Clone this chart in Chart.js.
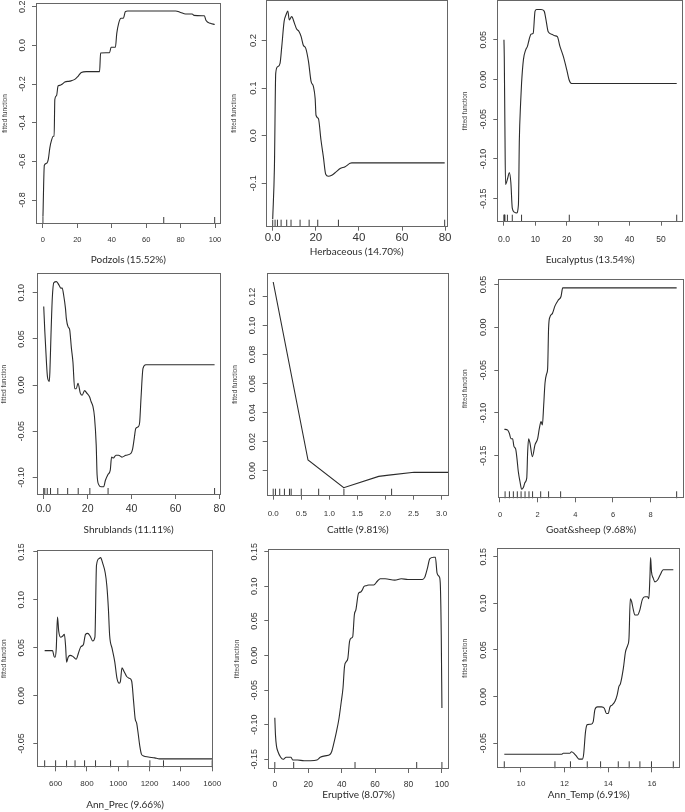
<!DOCTYPE html>
<html lang="en">
<head>
<meta charset="utf-8">
<title>Fitted functions of the boosted model</title>
<script src="https://cdn.jsdelivr.net/npm/chart.js@4.4.1/dist/chart.umd.min.js"></script>
<style>
  body { margin: 0; background: #fff; }
  #wrapper { position: relative; width: 685px; height: 812px; overflow: hidden; }
  #wrapper canvas { position: absolute; }
</style>
</head>
<body>
<div id="wrapper"></div>
<script>
// axis titles
var titles = ['Podzols (15.52%)', 'Herbaceous (14.70%)', 'Eucalyptus (13.54%)',
  'Shrublands (11.11%)', 'Cattle (9.81%)', 'Goat&sheep (9.68%)',
  'Ann_Prec (9.66%)', 'Eruptive (8.07%)', 'Ann_Temp (6.91%)'];
var yAxisTitle = 'fitted function';

// Podzols
var podzolsX = [0, 0.8, 2.1, 3.1, 4.0, 5.0, 6.0, 6.5, 6.9, 7.9, 8.8, 9.8, 11.3, 12.7, 15.6, 18.5, 20.4, 22.3, 25.2, 32.9,
  33.5, 36.7, 38.7, 39.6, 42.1, 42.9, 44.0, 45.4, 46.7, 47.9, 49.2, 77.1, 80.0, 82.9, 86.7, 87.7, 92.5, 93.8, 94.8, 97.3, 99.8];
var podzolsY = [-0.886, -0.62, -0.61, -0.59, -0.53, -0.49, -0.47, -0.47, -0.28, -0.26, -0.21, -0.207, -0.2, -0.19, -0.185, -0.176, -0.16, -0.14, -0.136, -0.136,
  -0.04, -0.038, -0.038, -0.01, -0.01, 0.062, 0.114, 0.14, 0.14, 0.174, 0.178, 0.178, 0.17, 0.162, 0.162, 0.155, 0.153, 0.153, 0.128, 0.114, 0.108];
var podzolsRug = [0, 70.2, 99.8];
var podzolsXTicks = ['0', '20', '40', '60', '80', '100'];
var podzolsYTicks = ['-0.8', '-0.6', '-0.4', '-0.2', '0.0', '0.2'];

// Herbaceous
var herbX = [0, 0.8, 1.4, 2.3, 3.4, 4.2, 5.3, 6.2, 7.0, 7.7, 8.8, 10.1, 11.1, 12.2, 13.2, 14.2, 15.3, 16.6, 17.8, 18.9,
  19.7, 20.1, 21.2, 22.4, 23.5, 24.6, 25.8, 27.4, 29.4, 31.3, 33.6, 35.9, 36.7, 79.8];
var herbY = [-0.175, -0.065, 0.131, 0.145, 0.152, 0.187, 0.24, 0.254, 0.262, 0.243, 0.25, 0.236, 0.224, 0.219, 0.208, 0.19, 0.184, 0.156, 0.114, 0.103,
  0.078, 0.043, 0.036, -0.009, -0.044, -0.081, -0.085, -0.083, -0.076, -0.069, -0.065, -0.058, -0.057, -0.057];
var herbRug = [0, 1.1, 2.2, 3.9, 6.5, 8.5, 12.7, 16.9, 20.9, 30.5, 79.8];
var herbXTicks = ['0.0', '20', '40', '60', '80'];
var herbYTicks = ['-0.1', '0.0', '0.1', '0.2'];

// Eucalyptus
var eucX = [0, 0.1, 0.3, 0.5, 1.2, 1.7, 2.2, 2.65, 3.3, 4.0, 4.6, 4.9, 5.3, 5.6, 6.2, 6.9, 7.5, 8.0, 8.6, 9.3,
  9.9, 10.4, 11.8, 12.8, 13.3, 14.1, 15.2, 16.2, 17.0, 17.8, 18.9, 20.0, 20.7, 21.5, 55.0];
var eucY = [0.05, 0.029, -0.059, -0.132, -0.124, -0.117, -0.13, -0.162, -0.167, -0.168, -0.158, -0.076, -0.03, -0.005, 0.025, 0.037, 0.042, 0.05, 0.057, 0.058,
  0.086, 0.088, 0.088, 0.086, 0.077, 0.06, 0.057, 0.055, 0.054, 0.042, 0.029, 0.012, 0.0, -0.005, -0.005];
var eucRug = [0, 0.1, 0.2, 0.3, 1.1, 2.65, 5.6, 20.8, 55.0];
var eucXTicks = ['0.0', '10', '20', '30', '40', '50'];
var eucYTicks = ['-0.15', '-0.10', '-0.05', '0.00', '0.05'];

// Shrublands
var shrubX = [0, 0.5, 1.3, 1.7, 2.5, 2.8, 3.3, 3.9, 4.6, 5.8, 7.0, 7.8, 8.4, 9.1, 9.9, 10.3, 11.1, 11.8, 12.6, 13.3,
  14.1, 14.8, 15.6, 16.7, 17.5, 18.6, 19.7, 20.9, 21.6, 22.4, 23.1, 23.9, 24.3, 25.1, 26.1, 27.3, 28.1, 29.2, 30.3, 30.9,
  31.7, 32.9, 34.1, 35.6, 37.4, 39.7, 40.4, 41.2, 41.9, 43.1, 43.7, 44.3, 45.2, 46.5, 77.8];
var shrubY = [0.085, 0.058, 0.022, 0.009, 0.004, 0.014, 0.054, 0.094, 0.111, 0.112, 0.108, 0.105, 0.105, 0.097, 0.083, 0.072, 0.063, 0.06, 0.04, 0.025,
  -0.004, -0.004, 0.002, -0.009, -0.011, -0.006, -0.009, -0.013, -0.018, -0.023, -0.034, -0.065, -0.097, -0.108, -0.11, -0.11, -0.103, -0.097, -0.092, -0.078,
  -0.079, -0.076, -0.076, -0.078, -0.076, -0.074, -0.07, -0.058, -0.047, -0.045, -0.04, -0.014, 0.018, 0.022, 0.022];
var shrubRug = [0, 0.5, 1.6, 3.1, 6.4, 10.9, 15.7, 21.0, 29.3, 77.8];
var shrubXTicks = ['0.0', '20', '40', '60', '80'];
var shrubYTicks = ['-0.10', '-0.05', '0.00', '0.05', '0.10'];

// Cattle
var cattleX = [0, 0.62, 1.257, 1.88, 2.06, 2.51, 3.13];
var cattleY = [0.13, 0.0074, -0.0117, -0.0039, -0.003, -0.0011, -0.0011];
var cattleRug = [0, 0.04, 0.116, 0.2, 0.29, 0.32, 0.5, 0.81, 1.26, 2.11];
var cattleXTicks = ['0.0', '0.5', '1.0', '1.5', '2.0', '2.5', '3.0'];
var cattleYTicks = ['0.00', '0.02', '0.04', '0.06', '0.08', '0.10', '0.12'];

// Goat&sheep
var goatX = [0.23, 0.41, 0.5, 0.58, 0.67, 0.74, 0.83, 0.9, 0.97, 1.06, 1.15, 1.24, 1.33, 1.42, 1.47, 1.52, 1.59, 1.72, 1.86, 2.0,
  2.09, 2.18, 2.25, 2.32, 2.39, 2.48, 2.53, 2.58, 2.65, 2.78, 2.92, 3.1, 3.24, 3.33, 9.38];
var goatY = [-0.119, -0.12, -0.124, -0.13, -0.13, -0.139, -0.142, -0.153, -0.168, -0.18, -0.189, -0.187, -0.181, -0.176, -0.145, -0.13, -0.135, -0.151, -0.137, -0.13,
  -0.118, -0.11, -0.114, -0.091, -0.065, -0.054, -0.048, -0.001, 0.012, 0.016, 0.025, 0.032, 0.036, 0.046, 0.046];
var goatRug = [0.27, 0.5, 0.71, 0.92, 1.12, 1.33, 1.54, 1.73, 2.16, 2.58, 3.22, 9.38];
var goatXTicks = ['0', '2', '4', '6', '8'];
var goatYTicks = ['-0.15', '-0.10', '-0.05', '0.00', '0.05'];

// Ann_Prec
var precX = [530, 580, 590, 596, 604, 612, 620, 632, 644, 656, 664, 670, 680, 692, 710, 731, 745, 761, 777, 791,
  805, 821, 837, 851, 861, 877, 887, 901, 917, 927, 937, 945, 961, 978, 992, 1006, 1014, 1024, 1038, 1054,
  1072, 1086, 1098, 1108, 1118, 1126, 1138, 1148, 1162, 1192, 1233, 1263, 1600];
var precY = [0.047, 0.047, 0.041, 0.040, 0.049, 0.082, 0.067, 0.061, 0.062, 0.064, 0.051, 0.035, 0.040, 0.042, 0.041, 0.038, 0.044, 0.051, 0.053, 0.064,
  0.065, 0.062, 0.057, 0.061, 0.136, 0.143, 0.144, 0.138, 0.128, 0.115, 0.091, 0.063, 0.049, 0.035, 0.018, 0.013, 0.015, 0.029, 0.025, 0.020,
  0.018, 0.015, -0.006, -0.024, -0.029, -0.038, -0.053, -0.061, -0.063, -0.064, -0.065, -0.066, -0.066];
var precRug = [530, 600, 670, 724, 785, 855, 951, 1062, 1202, 1289, 1600];
var precXTicks = ['600', '800', '1000', '1200', '1400', '1600'];
var precYTicks = ['-0.05', '0.00', '0.05', '0.10', '0.15'];

// Eruptive
var erupX = [0, 0.4, 1.0, 1.9, 3.5, 4.9, 6.8, 9.7, 10.7, 13.6, 17.5, 21.4, 25.2, 27.2, 30.1, 33.0, 34.0, 35.3, 36.9, 38.4,
  39.8, 40.8, 41.7, 42.7, 43.7, 44.7, 45.6, 46.6, 47.6, 48.5, 50.1, 51.5, 52.4, 53.4, 54.8, 56.3, 59.2, 61.2, 63.1, 66.0,
  71.8, 75.7, 79.6, 88.3, 89.7, 91.3, 92.8, 95.1, 96.1, 97.1, 98.4, 99.0, 99.6, 100];
var erupY = [-0.090, -0.115, -0.131, -0.139, -0.147, -0.150, -0.147, -0.147, -0.151, -0.151, -0.152, -0.152, -0.151, -0.147, -0.145, -0.143, -0.139, -0.127, -0.110, -0.091,
  -0.066, -0.047, -0.016, -0.009, -0.004, 0.020, 0.025, 0.027, 0.059, 0.066, 0.090, 0.092, 0.095, 0.100, 0.101, 0.102, 0.102, 0.107, 0.111, 0.111,
  0.109, 0.111, 0.110, 0.110, 0.113, 0.126, 0.140, 0.142, 0.142, 0.119, 0.114, 0.105, 0.030, -0.076];
var erupRug = [0, 11.3, 48.0, 84.9, 100];
var erupXTicks = ['0', '20', '40', '60', '80', '100'];
var erupYTicks = ['-0.15', '-0.10', '-0.05', '0.00', '0.05', '0.10', '0.15'];

// Ann_Temp
var tempX = [9.24, 11.86, 11.94, 12.24, 12.32, 12.44, 12.55, 12.66, 12.81, 12.87, 12.96, 13.04, 13.21, 13.31, 13.39, 13.51, 13.69, 13.82, 13.92, 14.0,
  14.08, 14.18, 14.31, 14.41, 14.49, 14.56, 14.69, 14.79, 14.89, 14.95, 15.01, 15.07, 15.15, 15.22, 15.34, 15.45, 15.56, 15.68, 15.80, 15.86,
  15.91, 15.94, 15.98, 16.06, 16.14, 16.26, 16.37, 16.52, 16.98];
var tempY = [-0.0618, -0.0618, -0.0607, -0.0607, -0.059, -0.061, -0.064, -0.067, -0.067, -0.0625, -0.0375, -0.030, -0.0296, -0.027, -0.014, -0.011, -0.011, -0.0125, -0.018, -0.018,
  -0.011, -0.009, -0.005, 0.002, 0.011, 0.014, 0.030, 0.048, 0.055, 0.0625, 0.105, 0.102, 0.093, 0.0875, 0.0875, 0.093, 0.104, 0.107, 0.107, 0.105,
  0.129, 0.149, 0.134, 0.127, 0.123, 0.125, 0.130, 0.136, 0.136];
var tempRug = [9.24, 11.56, 12.27, 13.04, 13.65, 14.46, 14.96, 15.45, 15.98, 16.98];
var tempXTicks = ['10', '12', '14', '16'];
var tempYTicks = ['-0.05', '0.00', '0.05', '0.10', '0.15'];

// panel layout: cell = canvas [x, y, w, h], box = plot frame [left, top, right, bottom] in page px
var panels = [
  { xs: podzolsX, ys: podzolsY, rug: podzolsRug, xt: podzolsXTicks, yt: podzolsYTicks, smooth: true,
    cell: [0, 0, 229, 268], box: [36, 3, 222, 224], xr: [-4.04, 103.3], yr: [-0.924, 0.219],
    xFont: 7.5, xOff: 16, yFont: 9, yOff: 13.3, titleY: 260, yTitleX: 5.7 },
  { xs: herbX, ys: herbY, rug: herbRug, xt: herbXTicks, yt: herbYTicks, smooth: true,
    cell: [229, 0, 227, 268], box: [265.7, 0, 447.7, 226.7], xr: [-3.25, 81.2], yr: [-0.191, 0.285],
    xFont: 11.5, xOff: 11.6, yFont: 9.5, yOff: 12.7, titleY: 251.7, yTitleX: 234.3 },
  { xs: eucX, ys: eucY, rug: eucRug, xt: eucXTicks, yt: eucYTicks, smooth: true,
    cell: [456, 0, 229, 268], box: [497.3, 0, 683, 221.7], xr: [-2.12, 57.0], yr: [-0.179, 0.1],
    xFont: 8.5, xOff: 18, yFont: 9, yOff: 14, titleY: 260, yTitleX: 465 },
  { xs: shrubX, ys: shrubY, rug: shrubRug, xt: shrubXTicks, yt: shrubYTicks, smooth: true,
    cell: [0, 268, 229, 270], box: [36.7, 273.3, 222, 495], xr: [-3.2, 80.5], yr: [-0.119, 0.121],
    xFont: 10.5, xOff: 14, yFont: 9, yOff: 15, titleY: 530, yTitleX: 4 },
  { xs: cattleX, ys: cattleY, rug: cattleRug, xt: cattleXTicks, yt: cattleYTicks, smooth: false,
    cell: [229, 268, 227, 270], box: [266.7, 273.3, 453.7, 495.7], xr: [-0.116, 3.134], yr: [-0.0172, 0.136],
    xFont: 8, xOff: 17.6, yFont: 9, yOff: 13.7, titleY: 530, yTitleX: 235 },
  { xs: goatX, ys: goatY, rug: goatRug, xt: goatXTicks, yt: goatYTicks, smooth: true,
    cell: [456, 268, 229, 270], box: [498.3, 279, 684, 498.3], xr: [-0.09, 9.77], yr: [-0.1996, 0.0564],
    xFont: 7.5, xOff: 16.7, yFont: 9, yOff: 15, titleY: 530, yTitleX: 465 },
  { xs: precX, ys: precY, rug: precRug, xt: precXTicks, yt: precYTicks, smooth: true,
    cell: [0, 538, 229, 274], box: [37.3, 550, 223.3, 767.3], xr: [483, 1604], yr: [-0.0748, 0.152],
    xFont: 8, xOff: 16.7, yFont: 9, yOff: 15.6, titleY: 805, yTitleX: 4 },
  { xs: erupX, ys: erupY, rug: erupRug, xt: erupXTicks, yt: erupYTicks, smooth: true,
    cell: [229, 538, 227, 274], box: [268.3, 549, 453.7, 769], xr: [-3.9, 104.1], yr: [-0.164, 0.154],
    xFont: 8.5, xOff: 16, yFont: 9, yOff: 13.3, titleY: 795, yTitleX: 237.3 },
  { xs: tempX, ys: tempY, rug: tempRug, xt: tempXTicks, yt: tempYTicks, smooth: true,
    cell: [456, 538, 229, 274], box: [497.3, 548.3, 680.3, 768.3], xr: [8.92, 17.3], yr: [-0.0768, 0.159],
    xFont: 8, xOff: 15, yFont: 9, yOff: 14, titleY: 795, yTitleX: 465.7 }
];

var SANS = '"Liberation Sans", Arial, sans-serif';
var TITLE_FONT = 10, YTITLE_FONT = 6.5, TICK_LEN = 4;

// frame round the plot region + R style rotated y tick labels
var framePlugin = {
  id: 'frame',
  afterDraw: function (chart, args, opts) {
    var ctx = chart.ctx, a = chart.chartArea, ys = chart.scales.y;
    ctx.save();
    ctx.strokeStyle = '#666';
    ctx.lineWidth = 1;
    ctx.strokeRect(Math.round(a.left) + 0.5, Math.round(a.top) + 0.5,
      Math.round(a.right) - Math.round(a.left) - 1, Math.round(a.bottom) - Math.round(a.top) - 1);
    ctx.fillStyle = '#333';
    ctx.font = opts.size + 'px ' + SANS;
    ctx.textAlign = 'center';
    ctx.textBaseline = 'middle';
    ys.ticks.forEach(function (t) {
      ctx.save();
      ctx.translate(a.left - opts.offset, ys.getPixelForValue(t.value));
      ctx.rotate(-Math.PI / 2);
      ctx.fillText(t.label, 0, 0);
      ctx.restore();
    });
    ctx.restore();
  }
};

var wrapper = document.getElementById('wrapper');

panels.forEach(function (p, i) {
  var c = p.cell, b = p.box;
  var canvas = document.createElement('canvas');
  canvas.width = c[2];
  canvas.height = c[3];
  canvas.style.left = c[0] + 'px';
  canvas.style.top = c[1] + 'px';
  wrapper.appendChild(canvas);

  var yWidth = b[0] - c[0];
  var xHeight = c[1] + c[3] - b[3];
  var titleLh = TITLE_FONT * 1.2, yTitleLh = YTITLE_FONT * 1.2;

  var curve = p.xs.map(function (v, k) { return { x: v, y: p.ys[k] }; });
  var rugPts = p.rug.map(function (v) { return { x: v, y: p.yr[0] }; });

  new Chart(canvas, {
    type: 'scatter',
    data: {
      datasets: [{
        data: curve,
        showLine: true,
        borderColor: '#2b2b2b',
        borderWidth: 1.1,
        pointRadius: 0,
        tension: 0,
        cubicInterpolationMode: p.smooth ? 'monotone' : 'default'
      }, {
        data: rugPts,
        pointStyle: 'line',
        pointRotation: 90,
        pointRadius: 7,
        pointBorderWidth: 1,
        pointBorderColor: '#3a3a3a',
        clip: 0
      }]
    },
    options: {
      responsive: false,
      animation: false,
      devicePixelRatio: 1,
      events: [],
      layout: {
        autoPadding: false,
        padding: { left: 0, bottom: 0, top: b[1] - c[1], right: c[0] + c[2] - b[2] }
      },
      plugins: {
        legend: { display: false },
        tooltip: { enabled: false },
        frame: { size: p.yFont, offset: p.yOff }
      },
      scales: {
        x: {
          type: 'linear',
          min: p.xr[0],
          max: p.xr[1],
          afterFit: function (s) { s.height = xHeight; },
          afterBuildTicks: function (s) {
            s.ticks = p.xt.map(function (l) { return { value: parseFloat(l) }; });
          },
          border: { display: false },
          grid: { display: true, drawOnChartArea: false, drawTicks: true, tickLength: TICK_LEN, color: '#666' },
          ticks: {
            autoSkip: false,
            maxRotation: 0,
            padding: p.xOff - TICK_LEN - p.xFont * 0.6,
            color: '#333',
            font: { family: SANS, size: p.xFont },
            callback: function (v, k) { return p.xt[k]; }
          },
          title: {
            display: true,
            text: titles[i],
            color: '#2b2b2b',
            font: { family: 'Lato', size: TITLE_FONT },
            padding: { top: 0, bottom: c[1] + c[3] - p.titleY - titleLh / 2 }
          }
        },
        y: {
          type: 'linear',
          min: p.yr[0],
          max: p.yr[1],
          afterFit: function (s) { s.width = yWidth; },
          afterBuildTicks: function (s) {
            s.ticks = p.yt.map(function (l) { return { value: parseFloat(l) }; });
          },
          border: { display: false },
          grid: { display: true, drawOnChartArea: false, drawTicks: true, tickLength: TICK_LEN, color: '#666' },
          ticks: {
            display: false,
            callback: function (v, k) { return p.yt[k]; }
          },
          title: {
            display: true,
            text: yAxisTitle,
            color: '#444',
            font: { family: SANS, size: YTITLE_FONT },
            padding: { top: Math.max(0, p.yTitleX - c[0] - yTitleLh / 2), bottom: 0 }
          }
        }
      }
    },
    plugins: [framePlugin]
  });
});
</script>
</body>
</html>
